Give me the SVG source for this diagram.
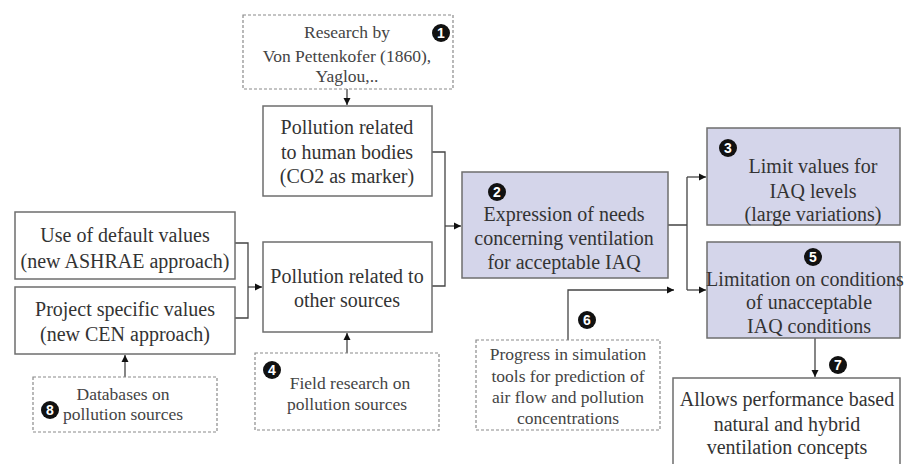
<svg xmlns="http://www.w3.org/2000/svg" width="906" height="464" viewBox="0 0 906 464">
<style>
.box{fill:#ffffff;stroke:#6e6e6e;stroke-width:1.5}
.sh{fill:#d4d5ea;stroke:#6e6e6e;stroke-width:1.5}
.dash{fill:#ffffff;stroke:#8a8a8a;stroke-width:1.2;stroke-dasharray:3 2}
.t{font-family:'Liberation Serif','Times New Roman',Times,serif;font-size:20px;fill:#333;text-anchor:middle}
.s{font-family:'Liberation Serif','Times New Roman',Times,serif;font-size:17.5px;fill:#444;text-anchor:middle}
.bc{fill:#111}
.bn{font-family:'Liberation Sans',Arial,sans-serif;font-size:14px;font-weight:bold;fill:#fff;text-anchor:middle}
.c{fill:none;stroke:#444;stroke-width:1.3}
</style>
<defs>
<marker id="ah" markerWidth="8" markerHeight="8" refX="7" refY="4" orient="auto" markerUnits="userSpaceOnUse">
<path d="M0,0.5 L7,4 L0,7.5 Z" fill="#111"/>
</marker>
</defs>
<rect width="906" height="464" fill="#ffffff"/>
<g id="connectors">
<path class="c" d="M347,89 L347,105" marker-end="url(#ah)"/>
<path class="c" d="M432,152 L445,152 L445,286 L432,286"/>
<path class="c" d="M445,226 L461,226" marker-end="url(#ah)"/>
<path class="c" d="M235,243 L248,243 L248,318 L235,318"/>
<path class="c" d="M248,287 L262,287" marker-end="url(#ah)"/>
<path class="c" d="M125,377 L125,355" marker-end="url(#ah)"/>
<path class="c" d="M347,353 L347,333" marker-end="url(#ah)"/>
<path class="c" d="M668,225 L687,225 M687,177 L687,290"/>
<path class="c" d="M687,177 L706,177" marker-end="url(#ah)"/>
<path class="c" d="M687,290 L706,290" marker-end="url(#ah)"/>
<path class="c" d="M568,340 L568,290 L674,290" marker-end="url(#ah)"/>
<path class="c" d="M815,338 L815,377" marker-end="url(#ah)"/>
</g>
<g id="n1">
<rect class="dash" x="243" y="15" width="210" height="74"/>
<text class="s" font-family="Liberation Serif, serif" x="347" y="38">Research by</text>
<text class="s" font-family="Liberation Serif, serif" x="347" y="62">Von Pettenkofer (1860),</text>
<text class="s" font-family="Liberation Serif, serif" x="347" y="82">Yaglou,..</text>
<circle class="bc" cx="441" cy="33" r="9"/><text class="bn" x="441" y="38">1</text>
</g>
<g id="human">
<rect class="box" x="263" y="106" width="169" height="90"/>
<text class="t" font-family="Liberation Serif, serif" x="347" y="134">Pollution related</text>
<text class="t" font-family="Liberation Serif, serif" x="347" y="159">to human bodies</text>
<text class="t" font-family="Liberation Serif, serif" x="347" y="183">(CO2 as marker)</text>
</g>
<g id="default">
<rect class="box" x="15" y="212" width="220" height="67"/>
<text class="t" font-family="Liberation Serif, serif" x="125" y="242">Use of default values</text>
<text class="t" font-family="Liberation Serif, serif" x="125" y="268">(new ASHRAE approach)</text>
</g>
<g id="project">
<rect class="box" x="15" y="287" width="220" height="67"/>
<text class="t" font-family="Liberation Serif, serif" x="125" y="316">Project specific values</text>
<text class="t" font-family="Liberation Serif, serif" x="125" y="341">(new CEN approach)</text>
</g>
<g id="other">
<rect class="box" x="263" y="242" width="169" height="90"/>
<text class="t" font-family="Liberation Serif, serif" x="347" y="283">Pollution related to</text>
<text class="t" font-family="Liberation Serif, serif" x="347" y="307">other sources</text>
</g>
<g id="n4">
<rect class="dash" x="255" y="353" width="184" height="77"/>
<text class="s" font-family="Liberation Serif, serif" x="350" y="389">Field research on</text>
<text class="s" font-family="Liberation Serif, serif" x="347" y="410">pollution sources</text>
<circle class="bc" cx="272" cy="370" r="9"/><text class="bn" x="272" y="375">4</text>
</g>
<g id="n8">
<rect class="dash" x="33" y="377" width="184" height="55"/>
<text class="s" font-family="Liberation Serif, serif" x="123" y="400">Databases on</text>
<text class="s" font-family="Liberation Serif, serif" x="123" y="420">pollution sources</text>
<circle class="bc" cx="50" cy="410" r="9"/><text class="bn" x="50" y="415">8</text>
</g>
<g id="n2">
<rect class="sh" x="462" y="172" width="206" height="106"/>
<circle class="bc" cx="497" cy="192" r="9"/><text class="bn" x="497" y="197">2</text>
<text class="t" font-family="Liberation Serif, serif" x="564" y="221">Expression of needs</text>
<text class="t" font-family="Liberation Serif, serif" x="564" y="245">concerning ventilation</text>
<text class="t" font-family="Liberation Serif, serif" x="564" y="269">for acceptable IAQ</text>
</g>
<g id="n3">
<rect class="sh" x="707" y="128" width="193" height="97"/>
<circle class="bc" cx="728" cy="148" r="9"/><text class="bn" x="728" y="153">3</text>
<text class="t" font-family="Liberation Serif, serif" x="813" y="173">Limit values for</text>
<text class="t" font-family="Liberation Serif, serif" x="813" y="198">IAQ levels</text>
<text class="t" font-family="Liberation Serif, serif" x="813" y="221">(large variations)</text>
</g>
<g id="n5">
<rect class="sh" x="707" y="242" width="193" height="96"/>
<circle class="bc" cx="813" cy="257" r="9"/><text class="bn" x="813" y="262">5</text>
<text class="t" font-family="Liberation Serif, serif" x="805" y="286">Limitation on conditions</text>
<text class="t" font-family="Liberation Serif, serif" x="809" y="309">of unacceptable</text>
<text class="t" font-family="Liberation Serif, serif" x="809" y="333">IAQ conditions</text>
</g>
<g id="n6">
<rect class="dash" x="476" y="340" width="184" height="90"/>
<text class="s" font-family="Liberation Serif, serif" x="568" y="360">Progress in simulation</text>
<text class="s" font-family="Liberation Serif, serif" x="568" y="382">tools for prediction of</text>
<text class="s" font-family="Liberation Serif, serif" x="568" y="403">air flow and pollution</text>
<text class="s" font-family="Liberation Serif, serif" x="568" y="424">concentrations</text>
<circle class="bc" cx="587" cy="320" r="9"/><text class="bn" x="587" y="325">6</text>
</g>
<g id="n7">
<rect class="box" x="673" y="378" width="227" height="92"/>
<circle class="bc" cx="838" cy="365" r="9"/><text class="bn" x="838" y="370">7</text>
<text class="t" font-family="Liberation Serif, serif" x="787" y="406">Allows performance based</text>
<text class="t" font-family="Liberation Serif, serif" x="787" y="431">natural and hybrid</text>
<text class="t" font-family="Liberation Serif, serif" x="787" y="454">ventilation concepts</text>
</g>
</svg>
